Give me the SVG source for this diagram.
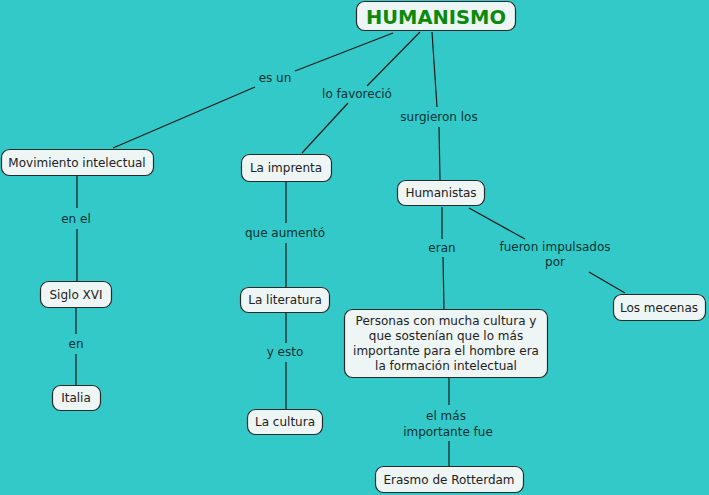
<svg xmlns="http://www.w3.org/2000/svg" width="709" height="495" viewBox="0 0 709 495">
<style>
.n rect{fill:#eef5f5;stroke:#2a2a2a;stroke-width:1.2}
.n text{font-family:"DejaVu Sans",Verdana,sans-serif;font-size:12px;fill:#222;text-anchor:middle}
.l{font-family:"DejaVu Sans",Verdana,sans-serif;font-size:12px;fill:#0d3333;text-anchor:middle}
#connectors line{stroke:#1a1a1a;stroke-width:1.2}
</style>
<rect width="709" height="495" fill="#33c9c8"/>
<g id="connectors">
<line x1="393" y1="33" x2="295" y2="71"/>
<line x1="255" y1="87" x2="113" y2="148"/>
<line x1="420" y1="32" x2="367" y2="86"/>
<line x1="348" y1="103" x2="302" y2="153"/>
<line x1="432" y1="32" x2="437" y2="107"/>
<line x1="439" y1="127" x2="440" y2="180"/>
<line x1="77" y1="176" x2="77" y2="208"/>
<line x1="77" y1="229" x2="77" y2="281"/>
<line x1="286" y1="182" x2="286" y2="223"/>
<line x1="286" y1="243" x2="286" y2="287"/>
<line x1="442" y1="207" x2="442" y2="239"/>
<line x1="443" y1="257" x2="444" y2="309"/>
<line x1="469" y1="208" x2="525" y2="239"/>
<line x1="589" y1="272" x2="625" y2="293"/>
<line x1="76" y1="308" x2="76" y2="334"/>
<line x1="76" y1="354" x2="76" y2="385"/>
<line x1="286" y1="313" x2="286" y2="343"/>
<line x1="286" y1="362" x2="286" y2="409"/>
<line x1="449" y1="378" x2="449" y2="405"/>
<line x1="449" y1="441" x2="449" y2="466"/>
</g>
<g id="labels">
<text class="l" x="275" y="82">es un</text>
<text class="l" x="357" y="98">lo favoreció</text>
<text class="l" x="439" y="121">surgieron los</text>
<text class="l" x="76" y="223">en el</text>
<text class="l" x="285" y="237">que aumentó</text>
<text class="l" x="442" y="252">eran</text>
<text class="l" x="555" y="251">fueron impulsados</text>
<text class="l" x="555" y="266">por</text>
<text class="l" x="76" y="348">en</text>
<text class="l" x="285" y="356">y esto</text>
<text class="l" x="446" y="420">el más</text>
<text class="l" x="448" y="436">importante fue</text>
</g>
<g id="humanismo" class="n">
<rect x="356.5" y="1.5" width="159" height="29" rx="8"/>
<text x="436" y="24" style="font-family:'DejaVu Sans',Verdana,sans-serif;font-weight:bold;font-size:19px;fill:#0a8a0a" textLength="140" lengthAdjust="spacingAndGlyphs">HUMANISMO</text>
</g>
<g id="movimiento" class="n">
<rect x="1.5" y="149.5" width="152" height="26" rx="8"/>
<text x="77" y="167">Movimiento intelectual</text>
</g>
<g id="imprenta" class="n">
<rect x="241.5" y="154.5" width="90" height="27" rx="8"/>
<text x="286" y="172">La imprenta</text>
</g>
<g id="humanistas" class="n">
<rect x="397.5" y="180.5" width="87" height="25" rx="8"/>
<text x="441" y="197">Humanistas</text>
</g>
<g id="siglo" class="n">
<rect x="40.5" y="281.5" width="71" height="26" rx="8"/>
<text x="76" y="299">Siglo XVI</text>
</g>
<g id="italia" class="n">
<rect x="52.5" y="385.5" width="48" height="25" rx="8"/>
<text x="76" y="402">Italia</text>
</g>
<g id="literatura" class="n">
<rect x="240.5" y="287.5" width="89" height="25" rx="8"/>
<text x="285" y="304">La literatura</text>
</g>
<g id="cultura" class="n">
<rect x="247.5" y="409.5" width="75" height="25" rx="8"/>
<text x="285" y="426">La cultura</text>
</g>
<g id="personas" class="n">
<rect x="344.5" y="309.5" width="203" height="68" rx="8"/>
<text x="446" y="325">Personas con mucha cultura y</text>
<text x="446" y="340">que sostenían que lo más</text>
<text x="446" y="355">importante para el hombre era</text>
<text x="446" y="370">la formación intelectual</text>
</g>
<g id="mecenas" class="n">
<rect x="613.5" y="294.5" width="92" height="26" rx="8"/>
<text x="659" y="312">Los mecenas</text>
</g>
<g id="erasmo" class="n">
<rect x="375.5" y="466.5" width="148" height="26" rx="8"/>
<text x="449" y="484">Erasmo de Rotterdam</text>
</g>
</svg>
